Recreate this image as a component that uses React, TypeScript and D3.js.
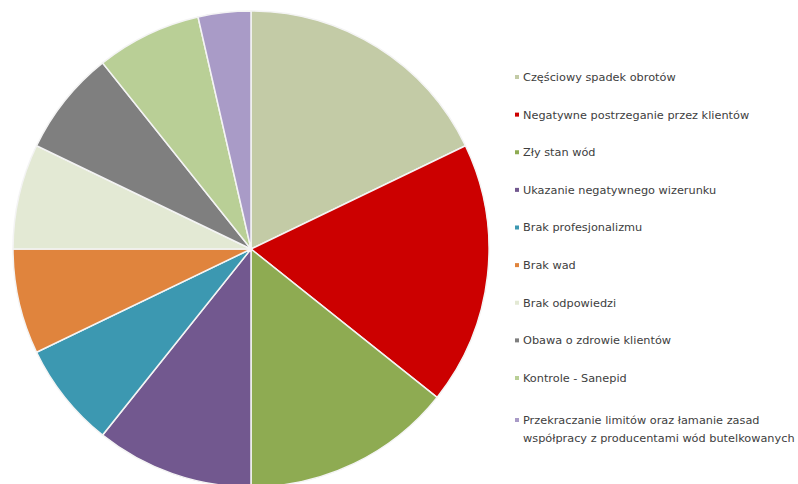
import React from "react";
import * as d3 from "d3";

const categories = [
  "Częściowy spadek obrotów",
  "Negatywne postrzeganie przez klientów",
  "Zły stan wód",
  "Ukazanie negatywnego wizerunku",
  "Brak profesjonalizmu",
  "Brak wad",
  "Brak odpowiedzi",
  "Obawa o zdrowie klientów",
  "Kontrole - Sanepid",
  "Przekraczanie limitów oraz łamanie zasad|współpracy z producentami wód butelkowanych",
];
const values = [5, 5, 4, 3, 2, 2, 2, 2, 2, 1];
const colors = [
  "#c3cba6",
  "#cc0000",
  "#8eab52",
  "#72588f",
  "#3c98b1",
  "#e0843d",
  "#e3e9d4",
  "#7f7f7f",
  "#b9cf96",
  "#a99bc7",
];

export default function App() {
  const W = 798;
  const H = 484;
  const cx = 251;
  const cy = 249;
  const r = 238;
  const pie = d3.pie<number>().sort(null).value((d) => d);
  const arcs = pie(values);
  const arcGen = d3.arc<d3.PieArcDatum<number>>().innerRadius(0).outerRadius(r);
  const legendY = d3.scaleLinear().domain([0, 8]).range([77, 378]);

  return (
    <svg
      width={W}
      height={H}
      style={{ position: "absolute", left: 0, top: 0, background: "#fff" }}
    >
      <g transform={`translate(${cx},${cy})`}>
        {arcs.map((a, i) => (
          <path
            key={i}
            d={arcGen(a) || ""}
            fill={colors[i]}
            stroke="#f4f4f4"
            strokeWidth={1.5}
          />
        ))}
      </g>
      <g fontFamily="'DejaVu Sans', Verdana, sans-serif" fontSize={11.3} fill="#404040">
        {categories.map((c, i) => {
          const lines = c.split("|");
          const y = i < 9 ? legendY(i) : 420;
          return (
            <g key={i}>
              <rect x={515} y={y - 2} width={4} height={4} fill={colors[i]} />
              {lines.map((l, j) => (
                <text key={j} x={523} y={y + j * 18} dy="0.35em">
                  {l}
                </text>
              ))}
            </g>
          );
        })}
      </g>
    </svg>
  );
}
